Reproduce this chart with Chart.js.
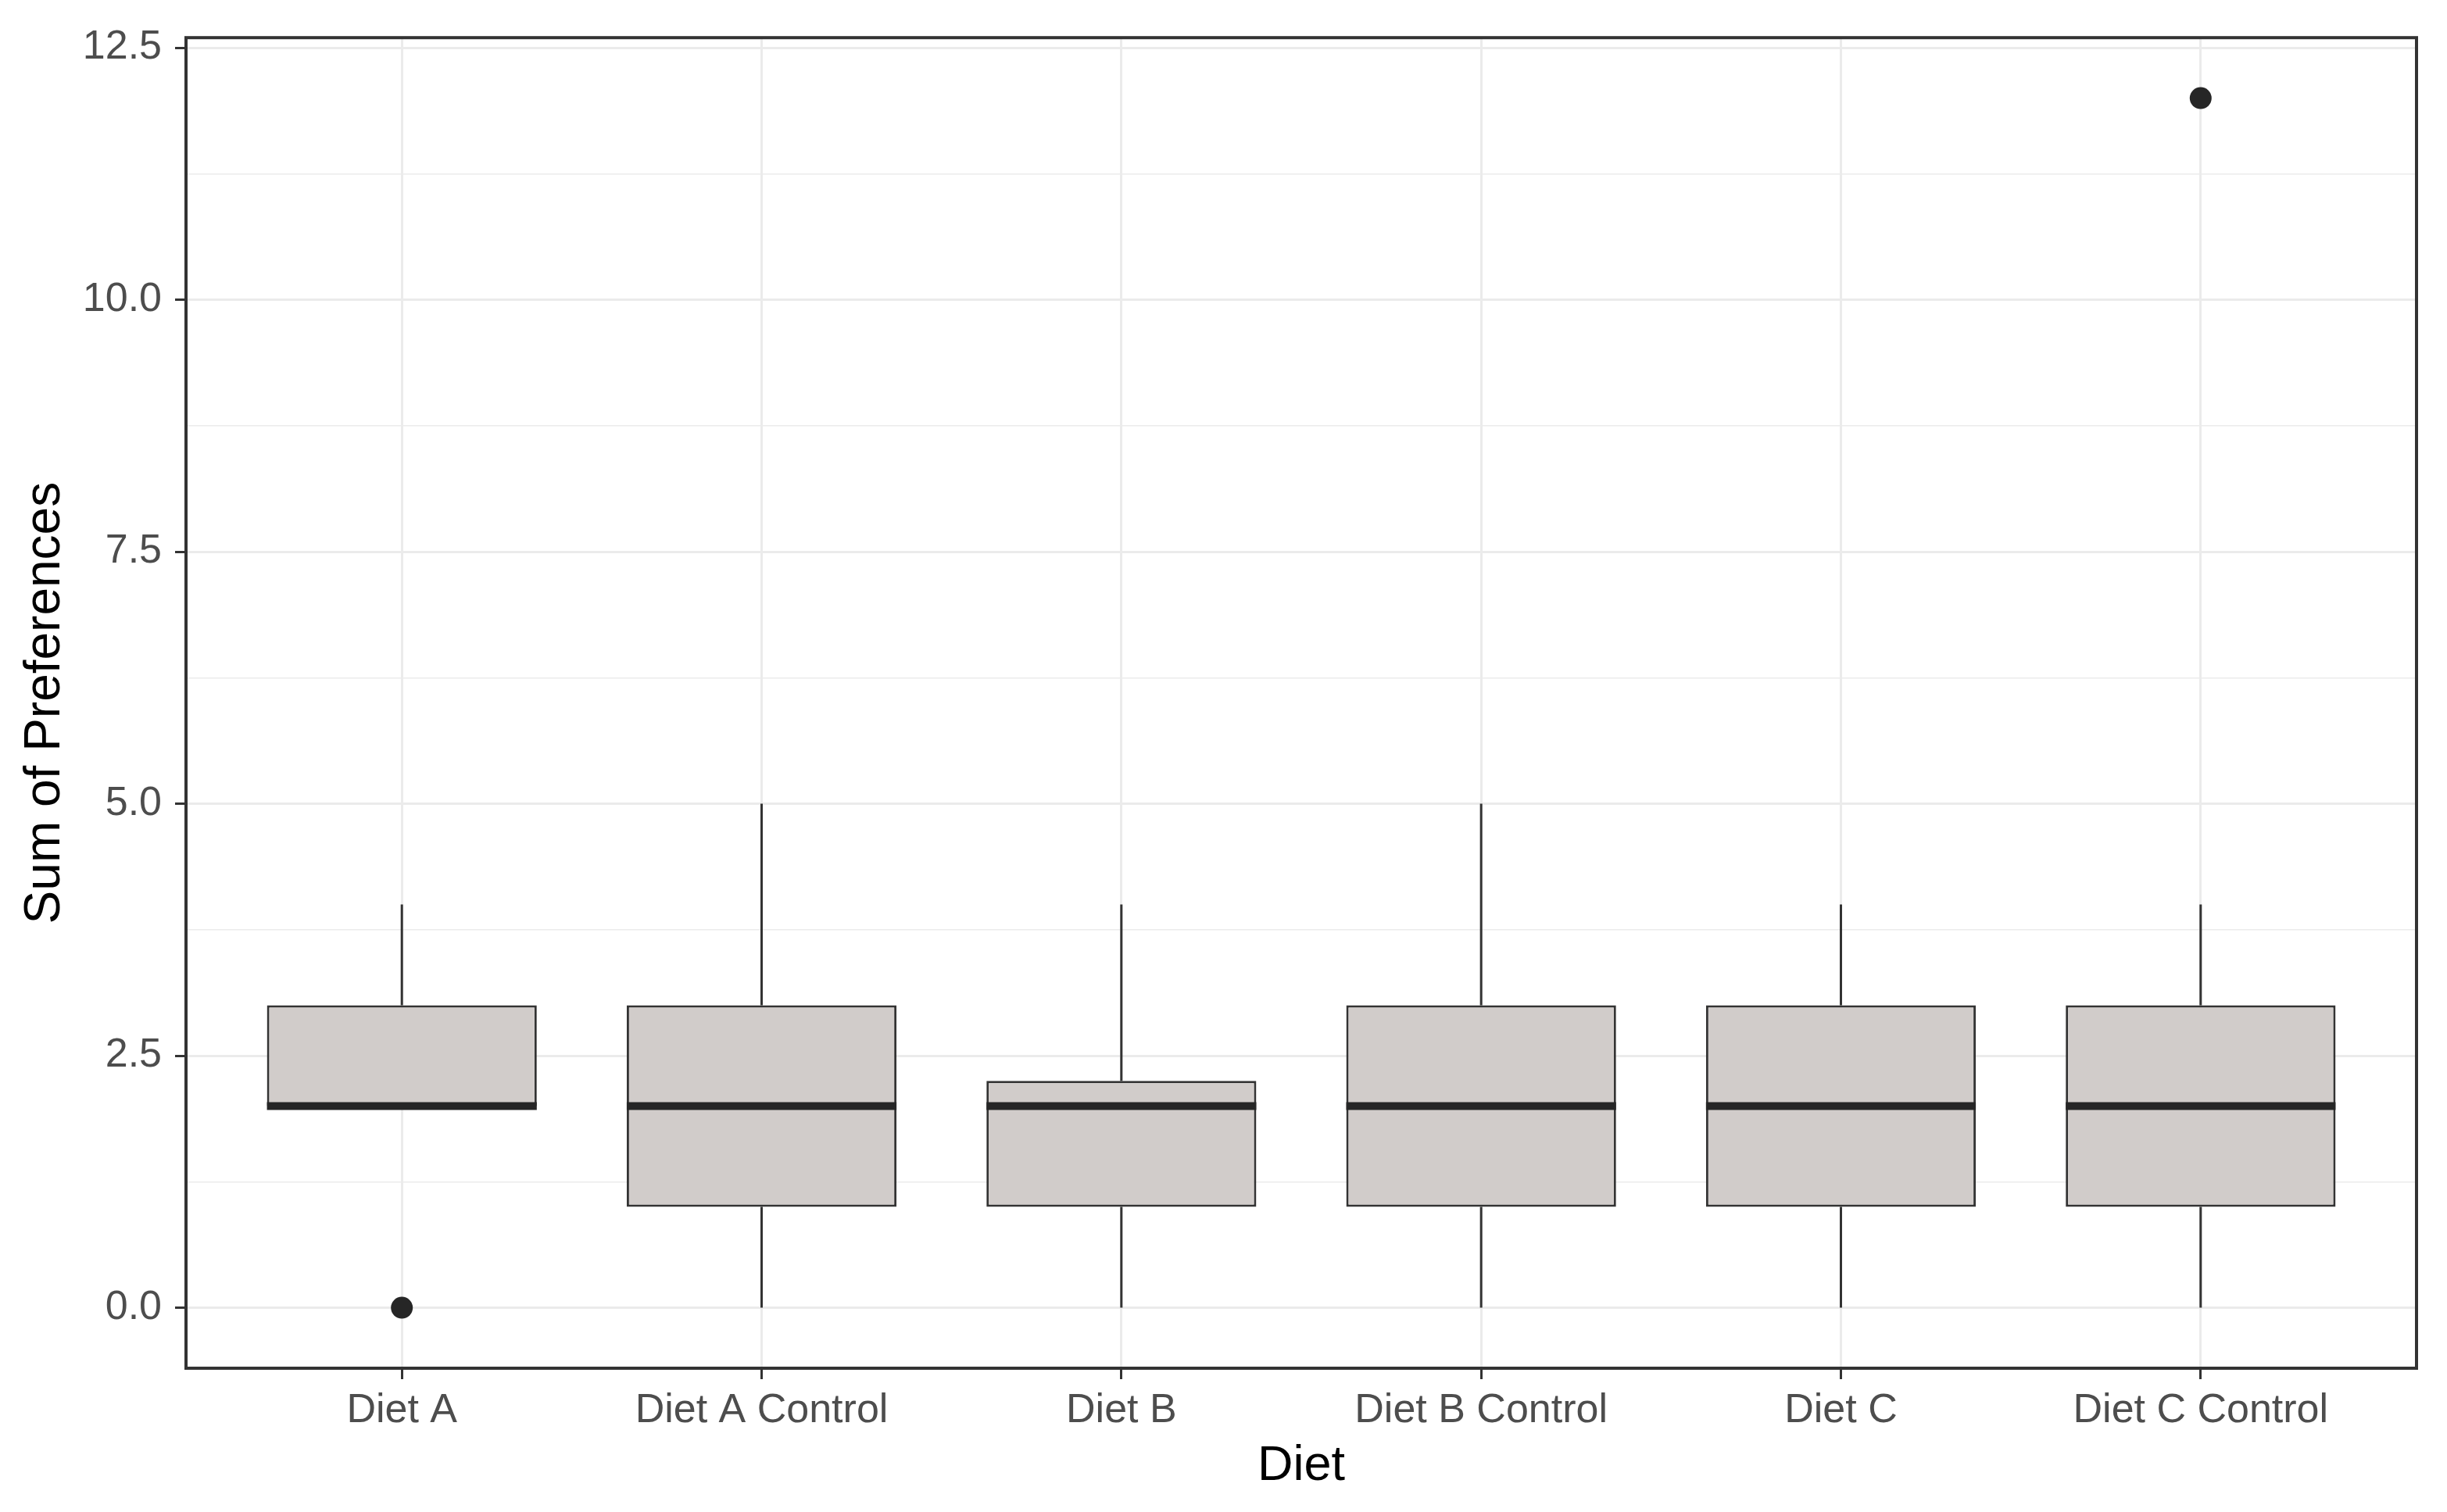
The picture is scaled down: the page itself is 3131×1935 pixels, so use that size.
<!DOCTYPE html>
<html>
<head>
<meta charset="utf-8">
<script src="https://cdn.jsdelivr.net/npm/chart.js@4.4.1/dist/chart.umd.min.js"></script>
<style>
  html, body { margin: 0; padding: 0; background: #fff; }
  #wrap { width: 3131px; height: 1935px; }
</style>
</head>
<body>
<div id="wrap"><canvas id="chart" width="3131" height="1935"></canvas></div>
<script>
// box statistics
const categories = ['Diet A', 'Diet A Control', 'Diet B', 'Diet B Control', 'Diet C', 'Diet C Control'];
const whiskerLow = [2, 0, 0, 0, 0, 0];
const lowerQuartile = [2, 1, 1, 1, 1, 1];
const medians = [2, 2, 2, 2, 2, 2];
const upperQuartile = [3, 3, 2.25, 3, 3, 3];
const whiskerHigh = [4, 5, 4, 5, 4, 4];
const outlierCategory = ['Diet A', 'Diet C Control'];
const outlierValue = [0, 12];

const yMajorTicks = [0, 2.5, 5, 7.5, 10, 12.5];
const yTickLabels = ['0.0', '2.5', '5.0', '7.5', '10.0', '12.5'];
const yMinorTicks = [1.25, 3.75, 6.25, 8.75, 11.25];

const boxWidth = 0.75;
const FONT = "'Liberation Sans', Arial, sans-serif";

const pos = name => categories.indexOf(name) + 1;

const boxData = categories.map((c, i) => ({ x: i + 1, y: [lowerQuartile[i], upperQuartile[i]] }));

const whiskerData = [];
categories.forEach((c, i) => {
    whiskerData.push({ x: i + 1, y: upperQuartile[i] }, { x: i + 1, y: whiskerHigh[i] }, { x: i + 1, y: null });
    whiskerData.push({ x: i + 1, y: lowerQuartile[i] }, { x: i + 1, y: whiskerLow[i] }, { x: i + 1, y: null });
});

const medianData = [];
categories.forEach((c, i) => {
    medianData.push({ x: i + 1 - boxWidth / 2, y: medians[i] }, { x: i + 1 + boxWidth / 2, y: medians[i] }, { x: i + 1, y: null });
});

const outlierData = outlierCategory.map((c, i) => ({ x: pos(c), y: outlierValue[i] }));

const isMajor = v => yMajorTicks.some(t => Math.abs(t - v) < 1e-6);

const panelBorder = {
    id: 'panelBorder',
    afterDatasetsDraw(chart) {
        const { ctx, chartArea: a } = chart;
        ctx.save();
        ctx.strokeStyle = '#333333';
        ctx.lineWidth = 4;
        ctx.strokeRect(a.left, a.top, a.right - a.left, a.bottom - a.top);
        ctx.restore();
    }
};

new Chart(document.getElementById('chart').getContext('2d'), {
    type: 'bar',
    data: {
        datasets: [
            {
                type: 'scatter',
                data: outlierData,
                pointRadius: 14,
                pointBackgroundColor: '#262626',
                pointBorderWidth: 0,
                order: 0
            },
            {
                type: 'line',
                data: medianData,
                borderColor: '#262626',
                borderWidth: 10,
                borderCapStyle: 'butt',
                pointRadius: 0,
                spanGaps: false,
                order: 1
            },
            {
                type: 'bar',
                data: boxData,
                backgroundColor: '#D1CCCA',
                borderColor: '#333333',
                borderWidth: 3,
                borderSkipped: false,
                barPercentage: boxWidth,
                categoryPercentage: 1,
                order: 2
            },
            {
                type: 'line',
                data: whiskerData,
                borderColor: '#333333',
                borderWidth: 3,
                pointRadius: 0,
                spanGaps: false,
                order: 3
            }
        ]
    },
    options: {
        responsive: false,
        animation: false,
        layout: { padding: { top: 46, right: 39, bottom: 0, left: 0 } },
        plugins: {
            legend: { display: false },
            tooltip: { enabled: false }
        },
        scales: {
            x: {
                type: 'linear',
                min: 0.4,
                max: 6.6,
                offset: false,
                afterBuildTicks: axis => { axis.ticks = categories.map((c, i) => ({ value: i + 1 })); },
                afterFit: scale => { scale.height = 184; },
                border: { display: false },
                grid: {
                    color: '#EBEBEB',
                    lineWidth: 3,
                    tickColor: '#333333',
                    tickWidth: 3,
                    tickLength: 14,
                    offset: false
                },
                ticks: {
                    autoSkip: false,
                    maxRotation: 0,
                    padding: 9,
                    color: '#4D4D4D',
                    font: { family: FONT, size: 52 },
                    callback: v => categories[Math.round(v) - 1]
                },
                title: {
                    display: true,
                    text: 'Diet',
                    color: '#000000',
                    font: { family: FONT, size: 63 },
                    padding: { top: 0, bottom: 21 }
                }
            },
            y: {
                type: 'linear',
                min: -0.6,
                max: 12.6,
                afterBuildTicks: axis => {
                    axis.ticks = yMajorTicks.concat(yMinorTicks).sort((a, b) => a - b).map(v => ({ value: v }));
                },
                afterFit: scale => { scale.width = 238; },
                border: { display: false },
                grid: {
                    color: '#EBEBEB',
                    lineWidth: ctx => (ctx.tick && isMajor(ctx.tick.value) ? 3 : 1.5),
                    tickColor: ctx => (ctx.tick && isMajor(ctx.tick.value) ? '#333333' : 'rgba(0,0,0,0)'),
                    tickWidth: 3,
                    tickLength: 14
                },
                ticks: {
                    autoSkip: false,
                    padding: 17,
                    color: '#4D4D4D',
                    font: { family: FONT, size: 52 },
                    callback: v => {
                        const k = yMajorTicks.findIndex(t => Math.abs(t - v) < 1e-6);
                        return k >= 0 ? yTickLabels[k] : '';
                    }
                },
                title: {
                    display: true,
                    text: 'Sum of Preferences',
                    color: '#000000',
                    font: { family: FONT, size: 64 },
                    padding: { top: 20, bottom: 0 }
                }
            }
        }
    },
    plugins: [panelBorder]
});
</script>
</body>
</html>
